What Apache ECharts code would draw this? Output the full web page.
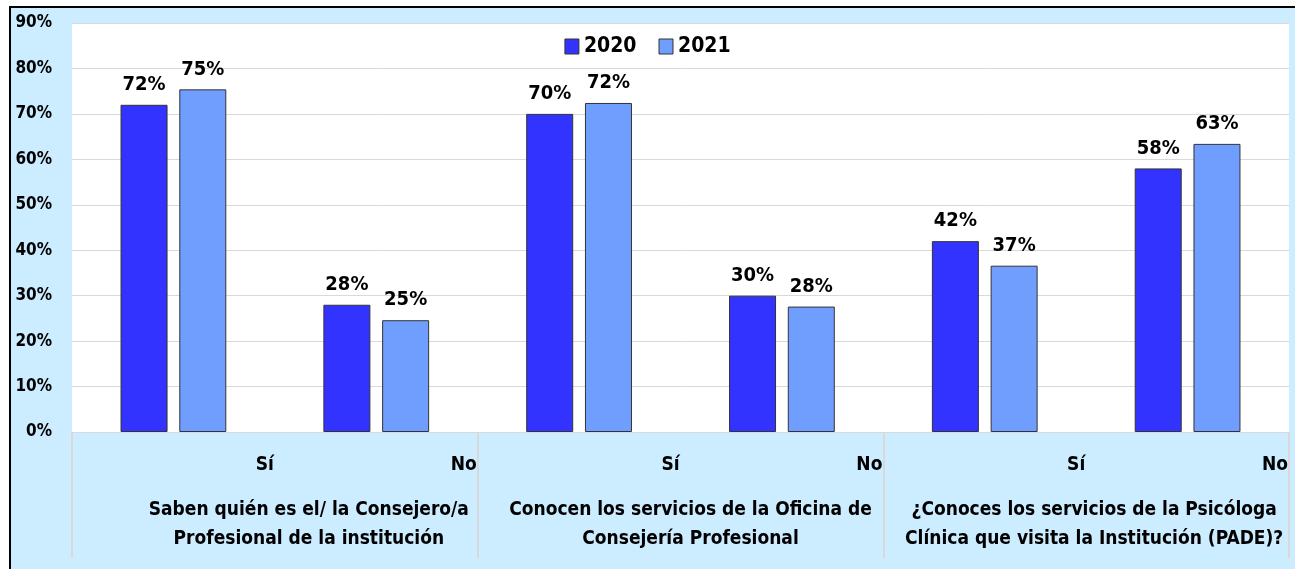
<!DOCTYPE html>
<html>
<head>
<meta charset="utf-8">
<script src="https://cdn.jsdelivr.net/npm/echarts@6/dist/echarts.min.js"></script>
<style>
  html, body { margin: 0; padding: 0; background: #fff; }
  #chart { width: 1295px; height: 569px; }
</style>
</head>
<body>
<div id="chart"></div>
<script>
// datos del gráfico
var respuestas = ['Sí', 'No', 'Sí', 'No', 'Sí', 'No'];
var preguntas = [
    'Saben quién es el/ la Consejero/a\nProfesional de la institución',
    'Conocen los servicios de la Oficina de\nConsejería Profesional',
    '¿Conoces los servicios de la Psicóloga\nClínica que visita la Institución (PADE)?'
];
var serie2020 = [72, 28, 70, 30, 42, 58];
var serie2021 = [75.4, 24.6, 72.4, 27.6, 36.6, 63.4];
var yTicks = [0, 10, 20, 30, 40, 50, 60, 70, 80, 90];

var FONT = '"Liberation Sans Narrow", "DejaVu Sans Condensed", "Noto Sans", sans-serif';

var chart = echarts.init(document.getElementById('chart'));

var option = {
    backgroundColor: '#fff',
    animation: false,
    textStyle: { fontFamily: FONT },
    graphic: [{
        type: 'rect',
        z: -10,
        shape: { x: 10, y: 7, width: 1300, height: 600 },
        style: { fill: '#CCECFF', stroke: '#000', lineWidth: 2 }
    }],
    legend: {
        top: 31,
        left: 'center',
        icon: 'rect',
        itemWidth: 14,
        itemHeight: 15,
        itemGap: 22,
        itemStyle: { borderColor: '#333', borderWidth: 1 },
        textStyle: { fontSize: 21, fontWeight: 'bold', color: '#000', fontFamily: FONT },
        data: ['2020', '2021']
    },
    grid: {
        left: 72,
        right: 6,
        top: 23,
        bottom: 137,
        show: true,
        backgroundColor: '#fff',
        borderWidth: 0
    },
    yAxis: {
        type: 'value',
        min: yTicks[0],
        max: yTicks[yTicks.length - 1],
        interval: 10,
        axisLine: { show: false },
        axisTick: { show: false },
        splitLine: { lineStyle: { color: '#d9d9d9', width: 1 } },
        axisLabel: {
            formatter: '{value}%',
            fontSize: 17,
            fontWeight: 'bold',
            color: '#000',
            margin: 20,
            fontFamily: FONT
        }
    },
    xAxis: [
        {
            type: 'category',
            data: respuestas,
            axisLine: { show: true, lineStyle: { color: '#d9d9d9' } },
            axisTick: { show: false },
            axisLabel: {
                interval: 0,
                margin: 24,
                formatter: function (v) { return '{r|' + v + '}'; },
                rich: {
                    r: { width: 201, align: 'right', fontSize: 19, fontWeight: 'bold', color: '#000', fontFamily: FONT }
                }
            }
        },
        {
            type: 'category',
            data: preguntas,
            position: 'bottom',
            axisLine: { show: false },
            axisTick: {
                show: true,
                interval: 0,
                length: 126,
                lineStyle: { color: '#d9d9d9', width: 2 }
            },
            axisLabel: {
                interval: 0,
                margin: 64,
                formatter: function (v, i) { return '{g' + i + '|' + v + '}'; },
                rich: {
                    g0: { width: 340, align: 'center', padding: [0, 0, 0, 68], lineHeight: 29, fontSize: 19, fontWeight: 'bold', color: '#000', fontFamily: FONT },
                    g1: { width: 380, align: 'center', padding: [0, 0, 0, 20], lineHeight: 29, fontSize: 19, fontWeight: 'bold', color: '#000', fontFamily: FONT },
                    g2: { width: 380, align: 'center', padding: [0, 0, 0, 16], lineHeight: 29, fontSize: 19, fontWeight: 'bold', color: '#000', fontFamily: FONT }
                }
            }
        }
    ],
    series: [
        {
            name: '2020',
            type: 'bar',
            data: serie2020,
            barWidth: 47,
            barGap: '25%',
            itemStyle: { color: '#3333FF', borderColor: '#333', borderWidth: 1 },
            label: {
                show: true,
                position: 'top',
                distance: 10,
                formatter: function (p) { return Math.round(p.value) + '%'; },
                fontSize: 20,
                fontWeight: 'bold',
                color: '#000',
                fontFamily: FONT
            }
        },
        {
            name: '2021',
            type: 'bar',
            data: serie2021,
            barWidth: 47,
            itemStyle: { color: '#6F9EFF', borderColor: '#333', borderWidth: 1 },
            label: {
                show: true,
                position: 'top',
                distance: 10,
                formatter: function (p) { return Math.round(p.value) + '%'; },
                fontSize: 20,
                fontWeight: 'bold',
                color: '#000',
                fontFamily: FONT
            }
        }
    ]
};

chart.setOption(option);
</script>
</body>
</html>
